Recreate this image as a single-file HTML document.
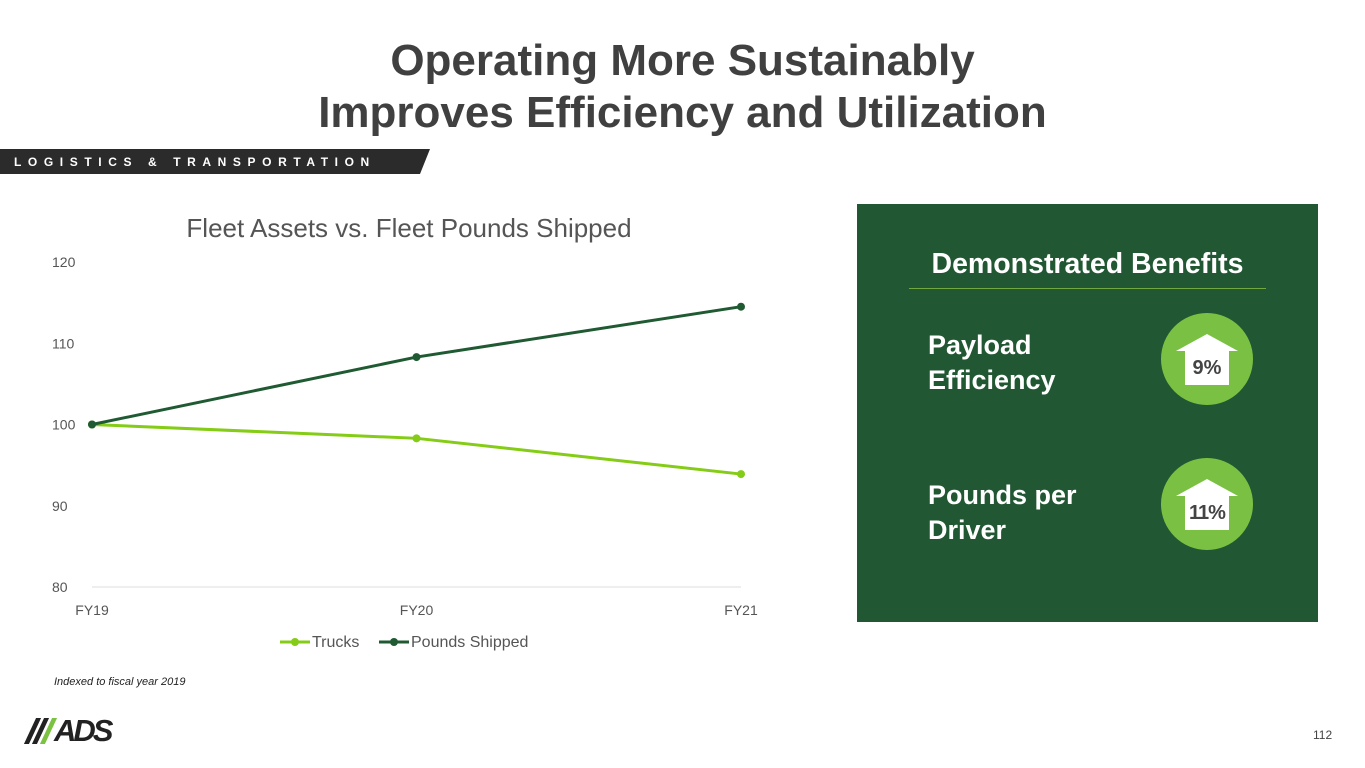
<!DOCTYPE html>
<html><head><meta charset="utf-8"><style>
body{margin:0;width:1365px;height:768px;background:#fff;position:relative;overflow:hidden;font-family:"Liberation Sans",sans-serif}
.abs{position:absolute}
h1{position:absolute;left:0;width:1365px;top:35px;margin:0;text-align:center;font-size:44px;line-height:52px;color:#404040;font-weight:bold}
</style></head><body>
<h1>Operating More Sustainably<br>Improves Efficiency and Utilization</h1>
<svg class="abs" style="left:0;top:149px" width="440" height="26">
<polygon points="0,0 430,0 420,25 0,25" fill="#2b2b2b"/>
<text x="14" y="17" fill="#fff" font-size="12" font-weight="bold" letter-spacing="6.6" font-family="Liberation Sans">LOGISTICS &amp; TRANSPORTATION</text>
</svg>
<svg class="abs" style="left:0;top:200px" width="820" height="470" id="chart"></svg>
<div class="abs" style="left:54px;top:676px;font-size:11px;font-style:italic;color:#222">Indexed to fiscal year 2019</div>
<div class="abs" style="left:30px;top:716px;width:90px;height:30px">
<div class="abs" style="left:0;top:2px;width:5px;height:26px;background:#222;transform:skewX(-25deg)"></div>
<div class="abs" style="left:8px;top:2px;width:5px;height:26px;background:#222;transform:skewX(-25deg)"></div>
<div class="abs" style="left:16px;top:2px;width:5px;height:26px;background:#7cc242;transform:skewX(-25deg)"></div>
<div class="abs" style="left:24px;top:-3px;font-size:31px;font-weight:bold;letter-spacing:-3px;color:#222;font-style:italic">ADS</div>
</div>
<div class="abs" style="left:1313px;top:728px;font-size:12px;color:#444">112</div>
<div class="abs" style="left:857px;top:204px;width:461px;height:418px;background:#215732">
<div class="abs" style="left:0;width:461px;top:44px;text-align:center;color:#fff;font-size:28.5px;font-weight:bold">Demonstrated Benefits</div>
<div class="abs" style="left:52px;top:84px;width:357px;height:1px;background:#6fa83f"></div>
<div class="abs" style="left:71px;top:124px;color:#fff;font-size:27px;font-weight:bold;line-height:35px">Payload<br>Efficiency</div>
<div class="abs" style="left:71px;top:274px;color:#fff;font-size:27px;font-weight:bold;line-height:35px">Pounds per<br>Driver</div>
<svg class="abs" style="left:304px;top:109px" width="92" height="92">
<circle cx="46" cy="46" r="46" fill="#7ac143"/><polygon points="46,21 15,38 24,38 24,72 68,72 68,38 77,38" fill="#fff"/>
<text x="46" y="61" text-anchor="middle" font-size="20" font-weight="bold" fill="#444" font-family="Liberation Sans">9%</text></svg>
<svg class="abs" style="left:304px;top:254px" width="92" height="92">
<circle cx="46" cy="46" r="46" fill="#7ac143"/><polygon points="46,21 15,38 24,38 24,72 68,72 68,38 77,38" fill="#fff"/>
<text x="46" y="61" text-anchor="middle" font-size="20" font-weight="bold" fill="#444" font-family="Liberation Sans" letter-spacing="-1">11%</text></svg>
</div>
<script>
const categories=["FY19","FY20","FY21"];
const trucks=[100,98.3,93.9];
const pounds=[100,108.3,114.5];
const yTicks=[80,90,100,110,120];
const svg=document.getElementById('chart');const NS='http://www.w3.org/2000/svg';
const oy=200;
function x(i){return 92+i*(741-92)/(categories.length-1);}
function y(v){return 587-oy-(v-80)*(587-262)/40;}
function el(t,a,txt){const e=document.createElementNS(NS,t);for(const k in a)e.setAttribute(k,a[k]);if(txt!==undefined)e.textContent=txt;svg.appendChild(e);return e;}
let t=el('text',{x:409,y:37,'text-anchor':'middle','font-size':26,fill:'#555'},'Fleet Assets vs. Fleet Pounds Shipped');


el('line',{x1:92,x2:741,y1:y(80),y2:y(80),stroke:'#ddd'});
yTicks.forEach(v=>{const e=el('text',{x:52,y:y(v)+5,'text-anchor':'start','font-size':14,fill:'#555'},v);

});
categories.forEach((c,i)=>{const e=el('text',{x:x(i),y:y(80)+28,'text-anchor':'middle','font-size':14,fill:'#555'},c);

});
function series(vals,color,name){const p=el('polyline',{points:vals.map((v,i)=>x(i)+','+y(v)).join(' '),fill:'none',stroke:color,'stroke-width':3});


vals.forEach((v,i)=>{const c=el('circle',{cx:x(i),cy:y(v),r:4,fill:color});

});}
series(trucks,'#84cc16','trucks');
series(pounds,'#1f5a32','pounds-shipped');
function legend(lx,color,label,name){const g=el('g',{});


const l=document.createElementNS(NS,'line');l.setAttribute('x1',lx);l.setAttribute('x2',lx+30);l.setAttribute('y1',442);l.setAttribute('y2',442);l.setAttribute('stroke',color);l.setAttribute('stroke-width',3);g.appendChild(l);
const c=document.createElementNS(NS,'circle');c.setAttribute('cx',lx+15);c.setAttribute('cy',442);c.setAttribute('r',4);c.setAttribute('fill',color);g.appendChild(c);
const tx=document.createElementNS(NS,'text');tx.setAttribute('x',lx+32);tx.setAttribute('y',447);tx.setAttribute('font-size',16);tx.setAttribute('fill','#555');tx.textContent=label;g.appendChild(tx);}
legend(280,'#84cc16','Trucks','legend-trucks');
legend(379,'#1f5a32','Pounds Shipped','legend-pounds-shipped');
</script>
</body></html>
